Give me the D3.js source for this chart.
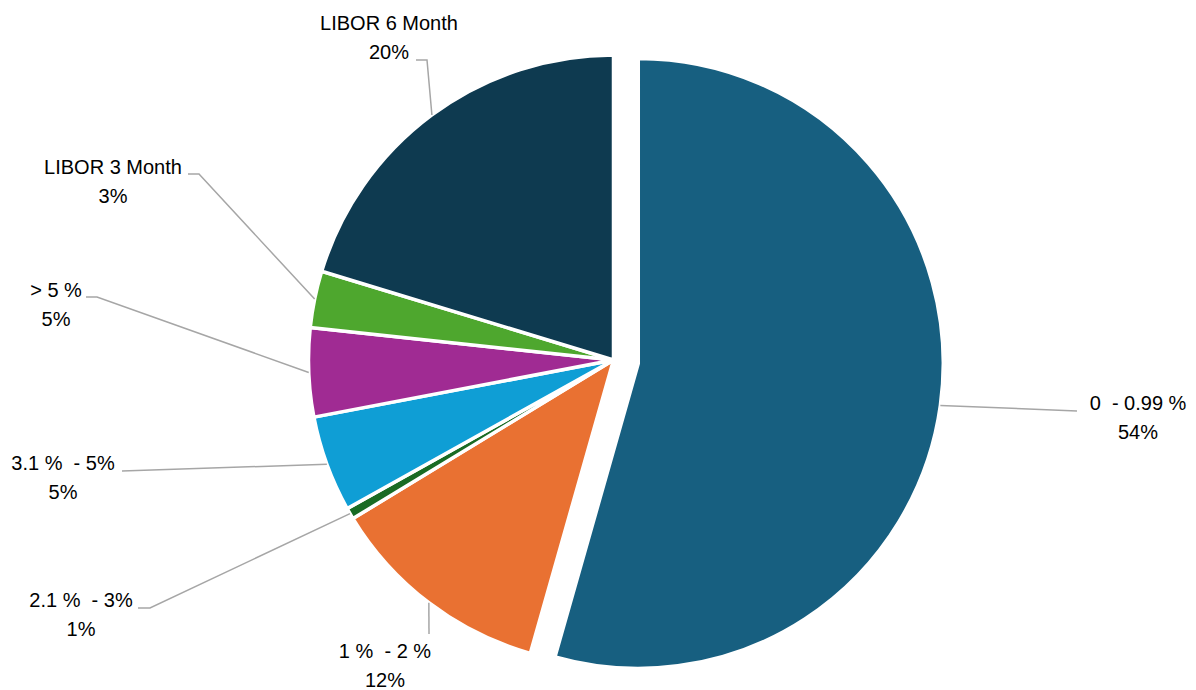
<!DOCTYPE html>
<html>
<head>
<meta charset="utf-8">
<script src="https://cdn.jsdelivr.net/npm/d3@7/dist/d3.min.js"></script>
<style>
  html, body { margin: 0; padding: 0; background: #ffffff; }
  svg { display: block; }
  text { font-family: "Liberation Sans", Arial, sans-serif; font-size: 20px; fill: #000000; white-space: pre; }
</style>
</head>
<body>
<svg id="chart" width="1196" height="690"></svg>
<script>
// Rate buckets, clockwise from 12 o'clock
const categories = [
  "0  - 0.99 %",
  "1 %  - 2 %",
  "2.1 %  - 3%",
  "3.1 %  - 5%",
  "> 5 %",
  "LIBOR 3 Month",
  "LIBOR 6 Month"
];
const shares = [54.4, 11.9, 0.6, 5.1, 4.7, 3.0, 20.3];
const sliceColors = ["#175F80", "#E97132", "#196B24", "#0F9ED5", "#A02B93", "#4EA72E", "#0E3A50"];
const explodedIndex = 0;

// Layout
const cx = 613.5, cy = 360, radius = 305, explodeBy = 25;
const lineGap = 29;
// label anchor: [center x, first-line baseline y]
const labelAnchors = [
  [1138, 410], [385, 658], [81, 607], [63, 470], [56, 297], [113, 174], [389, 30]
];
// leader line points near the label (the pie end is computed from the slice)
const leaderStarts = [
  [[1077, 411]],
  [[429, 634]],
  [[138, 608], [150, 608]],
  [[122, 471]],
  [[86, 297], [97, 297]],
  [[188, 174], [199, 174]],
  [[416, 60], [427, 60]]
];

const svg = d3.select("#chart");
const g = svg.append("g").attr("transform", `translate(${cx},${cy})`);

const pie = d3.pie().sort(null).value(d => d).startAngle(0).endAngle(2 * Math.PI);
const arcs = pie(shares);
const arc = d3.arc().innerRadius(0).outerRadius(radius);
const edgeArc = d3.arc().innerRadius(radius).outerRadius(radius);

function offsetOf(d, i) {
  if (i !== explodedIndex) return [0, 0];
  const mid = (d.startAngle + d.endAngle) / 2;
  return [explodeBy * Math.sin(mid), -explodeBy * Math.cos(mid)];
}

g.selectAll("path.slice")
  .data(arcs)
  .join("path")
  .attr("class", "slice")
  .attr("d", arc)
  .attr("transform", (d, i) => { const o = offsetOf(d, i); return `translate(${o[0]},${o[1]})`; })
  .attr("fill", (d, i) => sliceColors[i])
  .attr("stroke", "#ffffff")
  .attr("stroke-width", 3.5)
  .attr("stroke-linejoin", "round");

// Leader lines from label to slice edge
const line = d3.line();
svg.selectAll("path.leader")
  .data(arcs)
  .join("path")
  .attr("class", "leader")
  .attr("fill", "none")
  .attr("stroke", "#A6A6A6")
  .attr("stroke-width", 1.5)
  .attr("d", (d, i) => {
    const o = offsetOf(d, i);
    const c = edgeArc.centroid(d);
    const end = [cx + c[0] + o[0], cy + c[1] + o[1]];
    return line(leaderStarts[i].concat([end]));
  });

// Category name and percentage labels
const labels = svg.selectAll("g.label")
  .data(arcs)
  .join("g")
  .attr("class", "label");

labels.append("text")
  .attr("x", (d, i) => labelAnchors[i][0])
  .attr("y", (d, i) => labelAnchors[i][1])
  .attr("text-anchor", "middle")
  .text((d, i) => categories[i]);

labels.append("text")
  .attr("x", (d, i) => labelAnchors[i][0])
  .attr("y", (d, i) => labelAnchors[i][1] + lineGap)
  .attr("text-anchor", "middle")
  .text((d, i) => Math.round(shares[i]) + "%");
</script>
</body>
</html>
